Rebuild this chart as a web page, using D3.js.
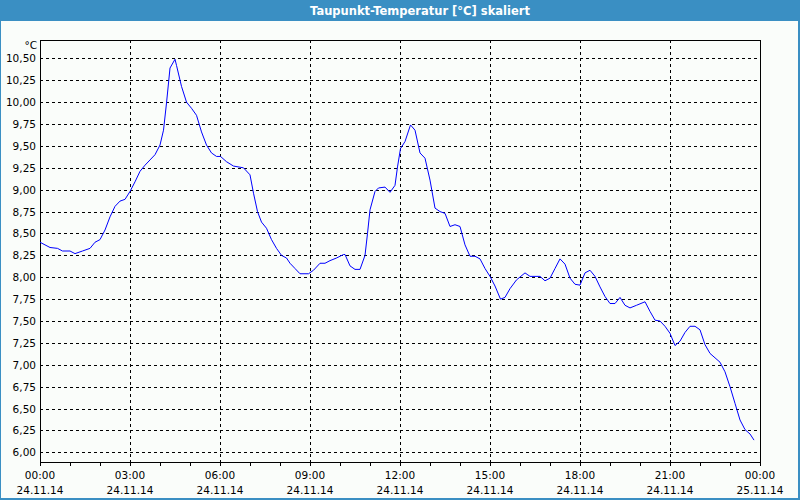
<!DOCTYPE html>
<html>
<head>
<meta charset="utf-8">
<script src="https://cdn.jsdelivr.net/npm/d3@7"></script>
<style>
  body { margin: 0; background: #fff; }
  svg { display: block; }
  text { font-family: "DejaVu Sans", Verdana, sans-serif; }
</style>
</head>
<body>
<div id="chart"></div>
<script>
"use strict";

// minutes since 00:00 on 24.11.14
var minutes = [0, 20, 35, 45, 60, 70, 85, 100, 110, 120, 130, 140, 150, 160, 170, 180, 190, 200, 210, 220,
  230, 240, 247, 253, 260, 270, 273, 283, 293, 303, 313, 323, 333, 343, 353, 361, 373, 387, 407, 420,
  427, 435, 443, 453, 463, 473, 483, 493, 500, 510, 520, 537, 547, 560, 570, 580, 593, 607, 610, 620,
  630, 640, 650, 655, 660, 670, 677, 690, 700, 710, 715, 721, 730, 741, 750, 760, 770, 780, 790, 800,
  810, 820, 830, 840, 850, 860, 870, 880, 890, 900, 910, 921, 930, 940, 953, 970, 980, 1000, 1010, 1020,
  1030, 1040, 1050, 1060, 1070, 1080, 1090, 1100, 1110, 1120, 1130, 1140, 1150, 1160, 1170, 1180, 1193, 1210, 1220, 1230,
  1240, 1250, 1260, 1270, 1280, 1290, 1300, 1310, 1320, 1330, 1340, 1350, 1360, 1370, 1380, 1390, 1400, 1410, 1420, 1428];

// dew point in °C
var dewPoint = [8.40, 8.34, 8.33, 8.30, 8.30, 8.27, 8.30, 8.33, 8.40, 8.43, 8.54, 8.69, 8.81, 8.87, 8.89, 8.98, 9.09, 9.21, 9.28, 9.34,
  9.40, 9.51, 9.68, 9.99, 10.39, 10.49, 10.42, 10.18, 10.00, 9.93, 9.85, 9.66, 9.51, 9.42, 9.38, 9.38, 9.32, 9.27, 9.25, 9.17,
  8.96, 8.75, 8.63, 8.56, 8.43, 8.33, 8.25, 8.22, 8.16, 8.10, 8.04, 8.04, 8.08, 8.16, 8.16, 8.19, 8.22, 8.26, 8.26, 8.13,
  8.09, 8.09, 8.25, 8.50, 8.77, 8.98, 9.02, 9.03, 8.97, 9.05, 9.26, 9.47, 9.55, 9.74, 9.68, 9.42, 9.36, 9.11, 8.79, 8.75,
  8.73, 8.58, 8.60, 8.58, 8.37, 8.24, 8.24, 8.21, 8.10, 8.01, 7.90, 7.75, 7.77, 7.87, 7.97, 8.05, 8.01, 8.01, 7.96, 7.99,
  8.10, 8.21, 8.15, 7.99, 7.92, 7.91, 8.05, 8.08, 8.01, 7.89, 7.78, 7.70, 7.70, 7.77, 7.68, 7.65, 7.68, 7.72, 7.61, 7.51,
  7.50, 7.44, 7.36, 7.22, 7.27, 7.37, 7.44, 7.44, 7.40, 7.23, 7.13, 7.08, 7.03, 6.92, 6.75, 6.56, 6.37, 6.26, 6.21, 6.14];

var yTicks = [6.00, 6.25, 6.50, 6.75, 7.00, 7.25, 7.50, 7.75, 8.00, 8.25, 8.50, 8.75, 9.00, 9.25, 9.50, 9.75, 10.00, 10.25, 10.50];
var xTickMinutes = [0, 180, 360, 540, 720, 900, 1080, 1260, 1440];
var xTickTimes = ["00:00", "03:00", "06:00", "09:00", "12:00", "15:00", "18:00", "21:00", "00:00"];
var xTickDates = ["24.11.14", "24.11.14", "24.11.14", "24.11.14", "24.11.14", "24.11.14", "24.11.14", "24.11.14", "25.11.14"];
var hourMinutes = d3.range(0, 1441, 60);

var W = 800, H = 500;
var plotLeft = 40, plotRight = 760, plotTop = 40, plotBottom = 462;

var svg = d3.select("#chart").append("svg")
  .attr("width", W)
  .attr("height", H);

// frame + title bar
svg.append("rect").attr("width", W).attr("height", H).attr("fill", "#3a8fc3");
svg.append("rect").attr("x", 1).attr("y", 21).attr("width", W - 3).attr("height", H - 23).attr("fill", "#fafdfa");
svg.append("text")
  .attr("x", 420).attr("y", 15)
  .attr("text-anchor", "middle")
  .attr("fill", "#fff")
  .attr("font-weight", "bold")
  .attr("font-size", "11.5px")
  .text("Taupunkt-Temperatur [°C] skaliert");

var x = d3.scaleLinear().domain([0, 1440]).range([plotLeft, plotRight]);
var y = d3.scaleLinear().domain([5.89, 10.71]).range([plotBottom, plotTop]);

var px = function(v) { return Math.round(v) + 0.5; };

// grid
var grid = svg.append("g")
  .attr("stroke", "#000")
  .attr("stroke-dasharray", "3,3")
  .attr("shape-rendering", "crispEdges");

grid.selectAll("line.h").data(yTicks).enter().append("line")
  .attr("class", "h")
  .attr("x1", plotLeft).attr("x2", plotRight)
  .attr("y1", function(d) { return px(y(d)); })
  .attr("y2", function(d) { return px(y(d)); });

grid.selectAll("line.v").data(xTickMinutes.slice(1, -1)).enter().append("line")
  .attr("class", "v")
  .attr("y1", plotTop).attr("y2", plotBottom)
  .attr("x1", function(d) { return px(x(d)); })
  .attr("x2", function(d) { return px(x(d)); });

// plot frame
svg.append("rect")
  .attr("x", plotLeft + 0.5).attr("y", plotTop + 0.5)
  .attr("width", plotRight - plotLeft).attr("height", plotBottom - plotTop)
  .attr("fill", "none").attr("stroke", "#000")
  .attr("shape-rendering", "crispEdges");

// hour ticks under the x axis
svg.append("g").attr("stroke", "#000").attr("shape-rendering", "crispEdges")
  .selectAll("line").data(hourMinutes).enter().append("line")
  .attr("x1", function(d) { return px(x(d)); })
  .attr("x2", function(d) { return px(x(d)); })
  .attr("y1", plotBottom).attr("y2", plotBottom + 4);

// y labels
var fmt = function(d) { return d.toFixed(2).replace(".", ","); };
svg.append("g").selectAll("text").data(yTicks).enter().append("text")
  .attr("x", plotLeft - 4)
  .attr("y", function(d) { return y(d) + 4; })
  .attr("text-anchor", "end")
  .attr("font-size", "10.5px")
  .attr("fill", "#000")
  .text(fmt);

svg.append("text")
  .attr("x", plotLeft - 3).attr("y", 49)
  .attr("text-anchor", "end")
  .attr("font-size", "10.5px")
  .text("°C");

// x labels
var xl = svg.append("g").selectAll("g").data(xTickMinutes).enter().append("g");
xl.append("text")
  .attr("x", function(d) { return x(d); })
  .attr("y", 479)
  .attr("text-anchor", "middle")
  .attr("font-size", "10.5px")
  .text(function(d, i) { return xTickTimes[i]; });
xl.append("text")
  .attr("x", function(d) { return x(d); })
  .attr("y", 494)
  .attr("text-anchor", "middle")
  .attr("font-size", "10.5px")
  .text(function(d, i) { return xTickDates[i]; });

// data line
var line = d3.line()
  .x(function(d) { return x(d); })
  .y(function(d, i) { return y(dewPoint[i]); });

svg.append("path")
  .datum(minutes)
  .attr("d", line)
  .attr("fill", "none")
  .attr("stroke", "#0000ff")
  .attr("stroke-width", 1);
</script>
</body>
</html>
